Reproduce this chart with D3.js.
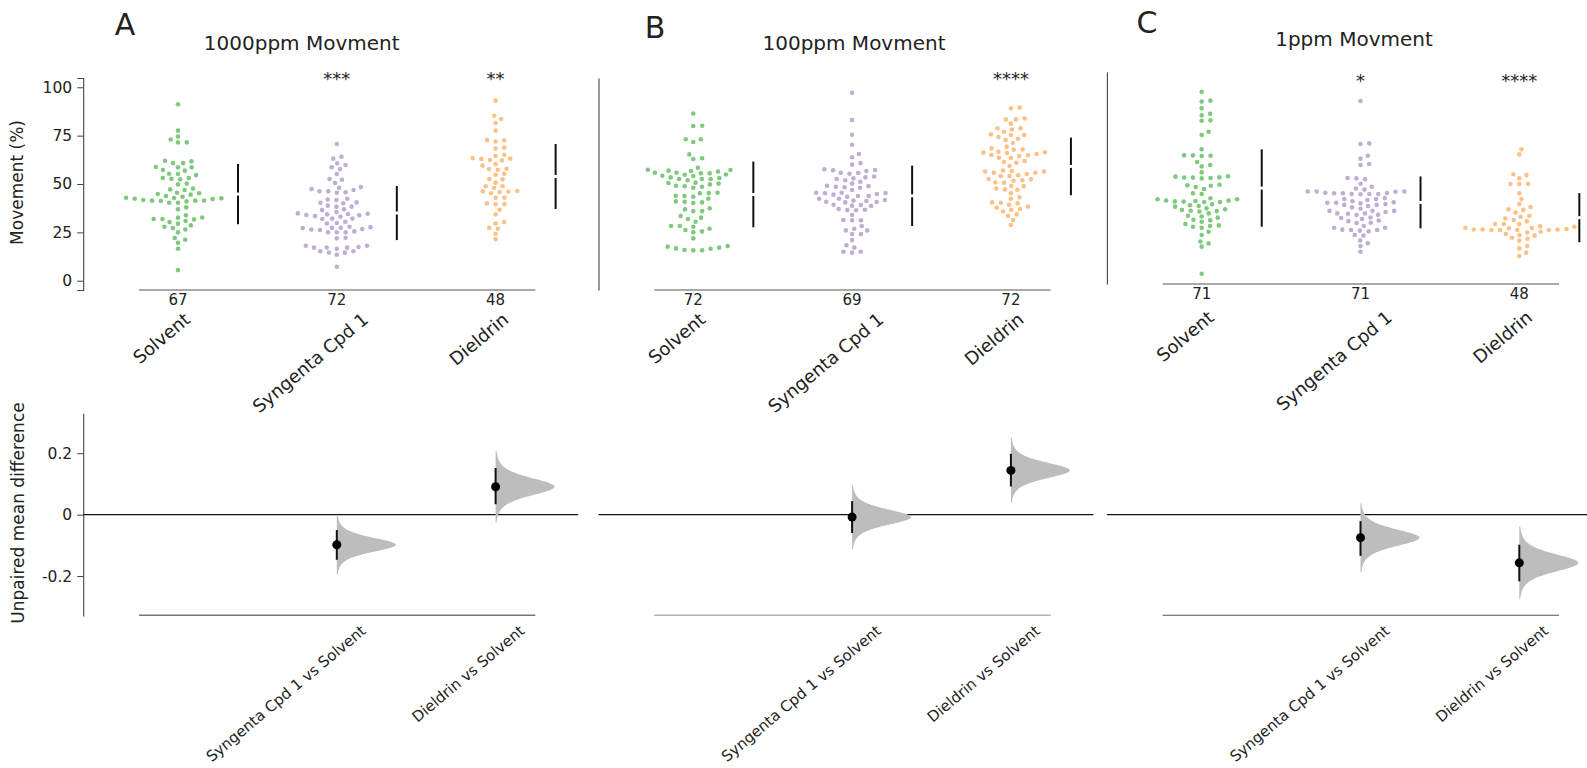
<!DOCTYPE html>
<html>
<head>
<meta charset="utf-8">
<script src="https://cdn.jsdelivr.net/npm/d3@7"></script>
<style>
  body { margin: 0; background: #fff; }
  text { font-family: "DejaVu Sans", sans-serif; fill: #222; }
</style>
</head>
<body>
<svg id="chart" width="1587" height="768"></svg>
<script>
// ---------- data ----------
const groups = ["Solvent", "Syngenta Cpd 1", "Dieldrin"];
const groupColors = ["#7fc97f", "#beaed4", "#fdc086"];
const panelLetters = ["A", "B", "C"];
const panelTitles = ["1000ppm Movment", "100ppm Movment", "1ppm Movment"];
const groupCounts = [[67, 72, 48], [72, 69, 72], [71, 71, 48]];
const significance = [["", "***", "**"], ["", "", "****"], ["", "*", "****"]];
const movementTicks = [0, 25, 50, 75, 100];
const diffTicks = [-0.2, 0, 0.2];
const comparisons = ["Syngenta Cpd 1 vs Solvent", "Dieldrin vs Solvent"];

// movement (%) per individual, 1000 ppm
const solvent1000 = [91.2, 77.6, 74.5, 73.0, 71.5, 71.5, 61.7, 60.8, 62.0, 60.8, 58.6, 58.8, 58.6, 55.3, 54.6, 57.2, 56.9, 55.2, 53.1, 52.4, 53.1, 52.7, 49.8, 50.2, 47.2, 46.9, 47.7, 45.5, 44.8, 44.5, 45.2, 42.6, 43.8, 42.9, 42.2, 42.7, 43.4, 42.4, 41.0, 41.5, 41.4, 40.3, 41.2, 41.7, 41.4, 40.3, 36.9, 37.9, 33.8, 31.9, 32.7, 31.9, 32.6, 31.7, 30.3, 30.9, 29.5, 28.6, 27.9, 27.2, 26.5, 25.0, 21.2, 22.1, 19.6, 16.5, 5.5];
const syngenta1000 = [70.7, 63.1, 64.1, 59.8, 57.7, 60.7, 58.6, 55.2, 52.6, 52.2, 50.5, 46.2, 48.1, 46.9, 45.5, 46.2, 48.4, 47.4, 45.7, 42.0, 40.5, 40.3, 42.4, 41.7, 40.0, 36.9, 35.5, 34.3, 38.3, 38.3, 36.5, 38.8, 34.5, 33.8, 33.1, 34.8, 34.0, 33.4, 34.6, 31.9, 32.1, 32.1, 29.8, 27.4, 29.6, 30.5, 27.4, 26.2, 27.7, 26.7, 26.5, 27.9, 27.2, 25.0, 25.0, 25.0, 25.5, 21.9, 22.2, 17.1, 18.1, 17.2, 17.1, 18.1, 17.4, 16.5, 14.6, 13.4, 15.2, 15.2, 14.5, 7.2];
const dieldrin1000 = [93.1, 83.6, 85.3, 81.5, 77.6, 72.6, 72.0, 72.7, 68.8, 68.3, 62.2, 63.4, 62.9, 65.1, 62.4, 64.5, 63.1, 59.5, 60.3, 57.7, 57.9, 57.4, 55.3, 54.8, 52.6, 52.4, 50.7, 48.8, 48.8, 46.0, 47.9, 46.2, 45.2, 46.4, 45.8, 42.9, 42.9, 39.6, 39.5, 40.0, 36.7, 34.3, 30.3, 29.6, 27.4, 26.9, 24.3, 21.4];

// movement (%) per individual, 100 ppm
const solvent100 = [86.4, 80.0, 80.1, 73.1, 73.1, 71.7, 65.3, 62.9, 63.3, 53.4, 55.8, 54.9, 51.9, 56.7, 54.3, 56.4, 55.5, 52.6, 57.4, 54.1, 53.1, 55.5, 57.2, 52.6, 54.8, 58.4, 56.9, 55.8, 52.6, 49.1, 50.5, 50.2, 48.8, 49.8, 48.1, 50.7, 48.6, 43.8, 45.5, 45.2, 43.4, 43.9, 42.4, 45.3, 40.8, 40.2, 41.0, 40.5, 36.9, 36.0, 37.4, 36.0, 32.6, 30.5, 33.4, 31.9, 28.3, 26.2, 26.9, 28.3, 25.5, 25.0, 27.9, 21.9, 17.9, 16.5, 15.9, 17.1, 15.7, 16.7, 15.7, 17.6];
const syngenta100 = [97.2, 83.1, 75.5, 70.3, 63.8, 65.5, 60.0, 60.8, 55.7, 57.2, 56.7, 55.8, 57.6, 57.1, 55.3, 52.9, 51.9, 53.9, 51.2, 53.4, 52.6, 50.2, 48.1, 49.1, 48.3, 48.6, 48.9, 46.9, 45.3, 43.8, 45.2, 45.5, 44.5, 43.8, 45.5, 43.4, 44.8, 42.4, 41.2, 40.5, 41.5, 42.4, 39.1, 40.8, 40.7, 38.8, 41.7, 38.6, 36.7, 39.3, 36.4, 37.1, 36.5, 31.4, 31.2, 31.2, 34.0, 28.3, 26.0, 26.0, 26.9, 24.1, 21.0, 24.1, 17.1, 15.0, 14.5, 15.0, 18.3];
const dieldrin100 = [89.5, 89.1, 83.4, 83.9, 83.4, 81.2, 78.2, 78.8, 78.8, 77.0, 75.3, 73.4, 75.7, 72.7, 75.3, 74.3, 71.2, 69.3, 67.7, 66.4, 68.4, 66.0, 67.9, 66.7, 66.2, 64.8, 63.6, 65.0, 63.6, 64.5, 65.5, 61.9, 61.0, 59.3, 61.4, 55.8, 57.0, 56.4, 55.8, 56.4, 56.7, 54.1, 55.2, 51.7, 54.1, 52.6, 54.5, 52.4, 51.9, 49.1, 47.7, 50.7, 47.2, 50.8, 48.9, 47.0, 45.2, 43.1, 42.4, 40.3, 40.5, 40.0, 39.3, 38.3, 35.8, 37.1, 36.7, 37.7, 34.3, 33.6, 31.4, 28.8];

// movement (%) per individual, 1 ppm
const solvent1 = [94.6, 90.0, 89.5, 86.0, 82.4, 83.2, 79.6, 79.8, 72.2, 73.9, 64.8, 61.7, 61.5, 61.4, 61.7, 58.3, 56.0, 56.7, 52.9, 50.2, 50.9, 50.2, 49.8, 50.3, 50.7, 50.0, 46.2, 45.3, 44.3, 46.5, 46.0, 42.1, 41.7, 38.3, 39.0, 37.6, 37.9, 39.5, 37.8, 38.1, 39.0, 37.6, 38.4, 34.3, 32.9, 35.9, 35.5, 35.2, 33.1, 32.7, 36.4, 33.8, 30.1, 31.7, 33.5, 30.5, 28.4, 29.5, 28.1, 27.4, 26.2, 24.8, 25.5, 25.2, 24.3, 22.2, 20.5, 17.2, 16.2, 14.5, 0.5];
const syngenta1 = [89.8, 67.9, 67.6, 61.5, 60.0, 56.7, 57.2, 49.3, 49.8, 50.0, 47.0, 44.6, 45.5, 44.0, 42.1, 41.7, 42.2, 43.0, 42.9, 42.4, 43.0, 41.7, 41.7, 43.0, 41.6, 42.1, 38.6, 37.2, 37.2, 39.1, 39.1, 38.0, 36.9, 36.5, 39.6, 37.4, 34.8, 36.1, 33.1, 33.0, 35.5, 32.4, 36.1, 33.0, 34.1, 31.7, 29.6, 31.5, 30.9, 28.8, 31.0, 29.3, 31.7, 28.0, 26.9, 27.7, 26.7, 22.8, 24.3, 23.1, 25.2, 23.1, 24.3, 23.3, 22.4, 20.5, 20.2, 17.7, 14.8, 16.3, 11.9];
const dieldrin1 = [64.8, 62.2, 51.9, 49.9, 51.5, 46.9, 46.9, 46.9, 42.1, 39.1, 36.5, 35.0, 33.8, 32.2, 33.5, 29.1, 30.0, 30.5, 26.2, 26.2, 23.6, 24.8, 23.4, 27.6, 24.0, 28.3, 26.2, 25.0, 23.1, 24.3, 23.4, 22.2, 23.1, 23.1, 23.4, 24.1, 23.1, 21.8, 19.1, 20.5, 20.2, 18.6, 21.0, 14.8, 17.6, 13.6, 11.4, 9.7];

// group mean and standard deviation [mean, sd]
const meanSd1000 = [[44.8, 15.6], [35.0, 14.0], [53.9, 16.8]];
const meanSd100 = [[44.6, 17.0], [43.9, 15.6], [59.1, 14.9]];
const meanSd1 = [[44.8, 20.0], [37.4, 13.4], [29.5, 12.7]];

// unpaired mean difference vs Solvent with 95% CI
const meanDiff1000 = [-0.098, 0.091];
const ciLow1000 = [-0.147, 0.034];
const ciHigh1000 = [-0.050, 0.152];
const meanDiff100 = [-0.008, 0.144];
const ciLow100 = [-0.060, 0.092];
const ciHigh100 = [0.044, 0.198];
const meanDiff1 = [-0.075, -0.157];
const ciLow1 = [-0.134, -0.217];
const ciHigh1 = [-0.021, -0.098];

const panelData = [
  { groupsValues: [solvent1000, syngenta1000, dieldrin1000], meanSd: meanSd1000, diff: meanDiff1000, lo: ciLow1000, hi: ciHigh1000 },
  { groupsValues: [solvent100, syngenta100, dieldrin100], meanSd: meanSd100, diff: meanDiff100, lo: ciLow100, hi: ciHigh100 },
  { groupsValues: [solvent1, syngenta1, dieldrin1], meanSd: meanSd1, diff: meanDiff1, lo: ciLow1, hi: ciHigh1 }
];

// ---------- layout ----------
const layout = [
  { x0: 178,   top: 78, letterX: 125,  letterY: 35,   titleX: 301.7, titleY: 50,   starY: 85, ticks: true,  baseColor: "#777", baseWidth: 1.6, labelTop: 311 },
  { x0: 693.3, top: 78, letterX: 655,  letterY: 38.3, titleX: 854,   titleY: 50,   starY: 85, ticks: false, baseColor: "#b3b3b3", baseWidth: 1.4, labelTop: 311 },
  { x0: 1201.7, top: 72, letterX: 1147, letterY: 32.7, titleX: 1354, titleY: 45.7, starY: 87, ticks: false, baseColor: "#555", baseWidth: 1.1, labelTop: 309 }
];
const step = 158.8;
const topHeight = 212;
const diffRange = [616, 413.3];
const angle = 40 * Math.PI / 180;

const svg = d3.select("#chart");

// beeswarm placement: points sorted by value, each put at the nearest free
// offset from the group centre; offsets are widened horizontally by `stretch`
function beeswarm(values, y, diam, stretch) {
  const pts = values.map(v => ({ v, y: y(v), x: 0 })).sort((a, b) => a.v - b.v);
  const placed = [];
  for (const p of pts) {
    const near = placed.filter(q => Math.abs(q.y - p.y) < diam);
    const cands = [0];
    for (const q of near) {
      const dx = Math.sqrt(diam * diam - (q.y - p.y) ** 2);
      cands.push(q.x + dx, q.x - dx);
    }
    cands.sort((a, b) => Math.abs(a) - Math.abs(b));
    for (const c of cands) {
      if (near.every(q => (q.x - c) ** 2 + (q.y - p.y) ** 2 >= diam * diam - 1e-6)) { p.x = c; break; }
    }
    placed.push(p);
  }
  return pts.map(p => ({ v: p.v, y: p.y, dx: p.x * stretch }));
}

// rotated label whose rotated box is centred on cx with its top at `top`
function rotatedCentred(sel, cx, top, fs) {
  const L = sel.node().getComputedTextLength();
  const h = fs * 0.75;
  const H = L * Math.sin(angle) + h * Math.cos(angle);
  const cy = top + H / 2;
  const px = cx + Math.sin(angle) * h / 2, py = cy + Math.cos(angle) * h / 2;
  sel.attr("transform", `translate(${px},${py}) rotate(-40)`);
  return L;
}

const hyphenFmt = d => d === 0 ? "0" : (d < 0 ? "-" : "") + Math.abs(d).toFixed(1);

layout.forEach((L, pi) => {
  const D = panelData[pi];
  const g = svg.append("g");
  const x = d3.scaleLinear().domain([0, 1]).range([L.x0, L.x0 + step]);
  const y = d3.scaleLinear().domain([-4.8, 104.8]).range([L.top + topHeight, L.top]);
  const yd = d3.scaleLinear().domain([-0.33, 0.33]).range(diffRange);
  const base = L.top + topHeight;

  // panel letter and title
  g.append("text").attr("x", L.letterX).attr("y", L.letterY).attr("text-anchor", "middle")
    .style("font-size", "30px").text(panelLetters[pi]);
  g.append("text").attr("x", L.titleX).attr("y", L.titleY).attr("text-anchor", "middle")
    .style("font-size", "20px").text(panelTitles[pi]);

  // --- raw data axes ---
  const yAxis = d3.axisLeft(y).tickSizeOuter(0);
  if (L.ticks) yAxis.tickValues(movementTicks).tickSize(6).tickPadding(5).tickFormat(d3.format("d"));
  else yAxis.tickValues([]);
  const ya = g.append("g").attr("transform", `translate(${x(-0.597)},0)`).call(yAxis);
  ya.select(".domain").attr("stroke", "#444").attr("stroke-width", 1.1);
  ya.selectAll(".tick line").attr("stroke", "#444");
  ya.selectAll(".tick text").style("font-size", "15.5px").attr("fill", "#222")
    .style("font-family", "'DejaVu Sans', sans-serif");

  g.append("line").attr("x1", x(-0.246)).attr("x2", x(2.25)).attr("y1", base).attr("y2", base)
    .attr("stroke", "#555").attr("stroke-width", 1.2);

  // swarms
  D.groupsValues.forEach((vals, gi) => {
    const pts = beeswarm(vals, y, 5.2, 1.7);
    g.append("g").selectAll("circle").data(pts).join("circle")
      .attr("cx", d => x(gi) + d.dx).attr("cy", d => d.y).attr("r", 2.3)
      .attr("fill", groupColors[gi]);

    // mean ± sd with a gap at the mean
    const [m, s] = D.meanSd[gi];
    const lx = x(gi + 0.378);
    g.append("line").attr("x1", lx).attr("x2", lx).attr("y1", y(m + s)).attr("y2", y(m) - 1.5)
      .attr("stroke", "#111").attr("stroke-width", 2);
    g.append("line").attr("x1", lx).attr("x2", lx).attr("y1", y(m) + 1.5).attr("y2", y(m - s))
      .attr("stroke", "#111").attr("stroke-width", 2);

    // group size
    g.append("text").attr("x", x(gi)).attr("y", base + 15).attr("text-anchor", "middle")
      .style("font-size", "15px").text(groupCounts[pi][gi]);

    // significance stars
    if (significance[pi][gi]) {
      g.append("text").attr("x", x(gi)).attr("y", L.starY).attr("text-anchor", "middle")
        .style("font-size", "18px").text(significance[pi][gi]);
    }

    // category label, centred a little left of its group, more so for longer names
    const t = g.append("text").attr("text-anchor", "middle").style("font-size", "18px").text(groups[gi]);
    const len = t.node().getComputedTextLength();
    rotatedCentred(t, x(gi) - 8 - 0.13 * len, L.labelTop, 18);
  });

  // --- contrast axes ---
  if (L.ticks) {
    const da = g.append("g").attr("transform", `translate(${x(-0.597)},0)`)
      .call(d3.axisLeft(yd).tickValues(diffTicks).tickSize(6).tickPadding(5).tickSizeOuter(0).tickFormat(hyphenFmt));
    da.select(".domain").attr("stroke", "#444").attr("stroke-width", 1.1);
    da.selectAll(".tick line").attr("stroke", "#444");
    da.selectAll(".tick text").style("font-size", "15.5px").attr("fill", "#222")
      .style("font-family", "'DejaVu Sans', sans-serif");
  }
  g.append("line").attr("x1", x(-0.597)).attr("x2", x(2.52)).attr("y1", yd(0)).attr("y2", yd(0))
    .attr("stroke", "#111").attr("stroke-width", 1.3);
  g.append("line").attr("x1", x(-0.246)).attr("x2", x(2.25)).attr("y1", 615.3).attr("y2", 615.3)
    .attr("stroke", L.baseColor).attr("stroke-width", L.baseWidth);

  D.diff.forEach((dm, ci) => {
    const cx = x(ci + 1);
    const sd = (D.hi[ci] - D.lo[ci]) / 3.92;
    const zs = d3.range(-3.9, 3.9001, 0.05);
    const area = d3.area()
      .y(z => yd(dm + z * sd))
      .x0(cx)
      .x1(z => cx + 59 * Math.pow(1 + z * z / 5, -3))
      .curve(d3.curveBasis);
    g.append("path").datum(zs).attr("d", area).attr("fill", "#bdbdbd");
    g.append("line").attr("x1", cx).attr("x2", cx).attr("y1", yd(D.lo[ci])).attr("y2", yd(D.hi[ci]))
      .attr("stroke", "#111").attr("stroke-width", 2);
    g.append("circle").attr("cx", cx).attr("cy", yd(dm)).attr("r", 4.5).attr("fill", "#000");

    const fs = 15;
    g.append("text").attr("text-anchor", "end").style("font-size", fs + "px")
      .attr("transform", `translate(${cx + 30},${624 + 0.766 * 0.73 * fs}) rotate(-40)`)
      .text(comparisons[ci]);
  });
});

// axis titles
svg.append("text").attr("transform", "translate(23,182.5) rotate(-90)").attr("text-anchor", "middle")
  .style("font-size", "17px").text("Movement (%)");
svg.append("text").attr("transform", "translate(24,513) rotate(-90)").attr("text-anchor", "middle")
  .style("font-size", "17px").text("Unpaired mean difference");
</script>
</body>
</html>
